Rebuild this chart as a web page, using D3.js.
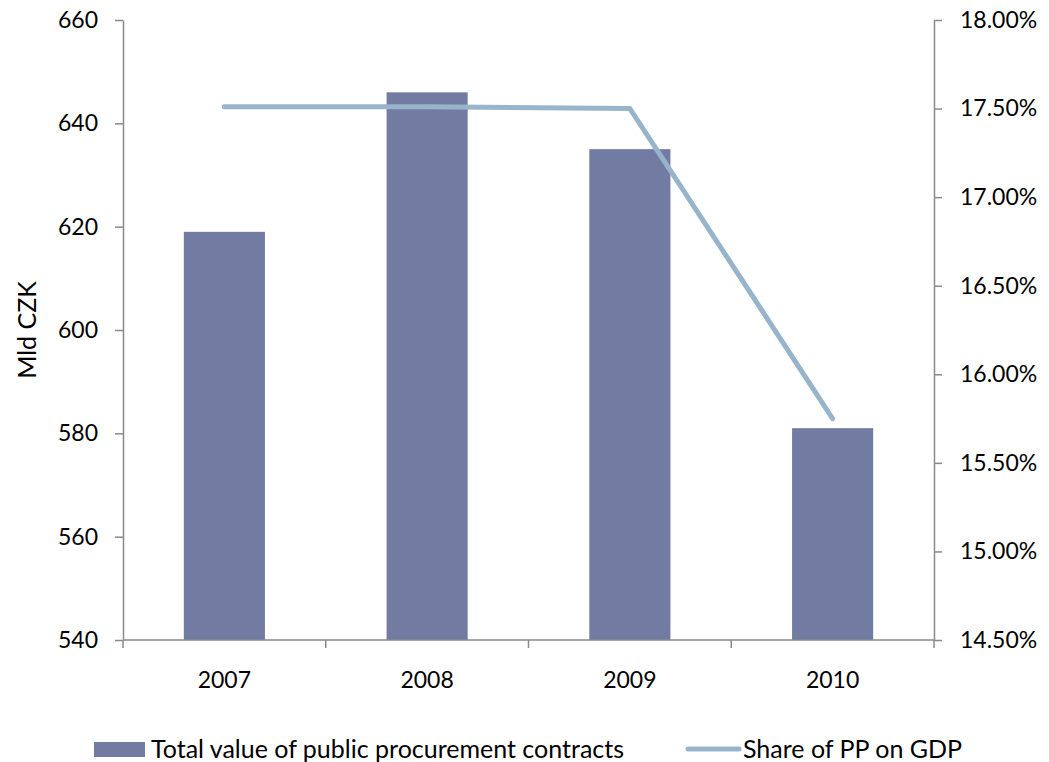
<!DOCTYPE html>
<html>
<head>
<meta charset="utf-8">
<script src="https://cdn.jsdelivr.net/npm/d3@7"></script>
<style>
  html, body { margin: 0; padding: 0; background: #fff; }
  svg { display: block; }
  text { font-family: Lato, "Noto Sans", sans-serif; fill: #000; }
</style>
</head>
<body>
<svg id="chart" width="1049" height="762"></svg>
<script>
// Public procurement in the Czech Republic, 2007–2010
const years = ["2007", "2008", "2009", "2010"];
const contractValues = [619, 646, 635, 581];          // Mld CZK
const gdpShare = [17.51, 17.51, 17.50, 15.75];         // % of GDP
const leftTicks = [540, 560, 580, 600, 620, 640, 660];
const rightTicks = [14.5, 15.0, 15.5, 16.0, 16.5, 17.0, 17.5, 18.0];
const seriesNames = ["Total value of public procurement contracts", "Share of PP on GDP"];

const barColor = "#727ba2";
const lineColor = "#98b4cb";
const axisColor = "#8a8a8a";
const tickFont = 23;
const textFont = 25;

const svg = d3.select("#chart");
const plot = { left: 123, right: 934, top: 20, bottom: 640 };

const x = d3.scaleBand()
  .domain(years)
  .range([plot.left, plot.right])
  .paddingInner(0.6)
  .paddingOuter(0.3);

const yLeft = d3.scaleLinear().domain([540, 660]).range([plot.bottom, plot.top]);
const yRight = d3.scaleLinear().domain([14.5, 18.0]).range([plot.bottom, plot.top]);

// Bars
svg.append("g")
  .selectAll("rect")
  .data(years)
  .join("rect")
  .attr("x", d => x(d))
  .attr("width", x.bandwidth())
  .attr("y", (d, i) => yLeft(contractValues[i]))
  .attr("height", (d, i) => plot.bottom - yLeft(contractValues[i]))
  .attr("fill", barColor);

// Left axis
const leftAxis = svg.append("g")
  .attr("transform", `translate(${plot.left},0)`)
  .call(d3.axisLeft(yLeft).tickValues(leftTicks).tickSize(8).tickSizeOuter(0).tickPadding(17));
leftAxis.select(".domain").attr("stroke", axisColor).attr("stroke-width", 1.5);
leftAxis.selectAll(".tick line").attr("stroke", axisColor).attr("stroke-width", 1.5);
leftAxis.selectAll(".tick text").style("font-size", tickFont + "px").attr("fill", "#000");

// Right axis
const rightAxis = svg.append("g")
  .attr("transform", `translate(${plot.right},0)`)
  .call(d3.axisRight(yRight).tickValues(rightTicks).tickSize(8).tickSizeOuter(0).tickPadding(18)
    .tickFormat(d => d3.format(".2f")(d) + "%"));
rightAxis.select(".domain").attr("stroke", axisColor).attr("stroke-width", 1.5);
rightAxis.selectAll(".tick line").attr("stroke", axisColor).attr("stroke-width", 1.5);
rightAxis.selectAll(".tick text").style("font-size", tickFont + "px").attr("fill", "#000");

// Bottom axis: ticks sit on category boundaries
const boundaries = years.map(d => x(d) - x.step() * x.paddingInner() / 2);
const bottom = svg.append("g").attr("transform", `translate(0,${plot.bottom})`);
bottom.append("line")
  .attr("x1", plot.left).attr("x2", plot.right)
  .attr("stroke", axisColor).attr("stroke-width", 1.5);
bottom.selectAll("line.tick")
  .data(boundaries.slice(1).concat([plot.right]))
  .join("line")
  .attr("class", "tick")
  .attr("x1", d => d).attr("x2", d => d)
  .attr("y1", 0).attr("y2", 8)
  .attr("stroke", axisColor).attr("stroke-width", 1.5);
bottom.append("line")
  .attr("x1", plot.left).attr("x2", plot.left)
  .attr("y1", 0).attr("y2", 8)
  .attr("stroke", axisColor).attr("stroke-width", 1.5);
bottom.selectAll("text")
  .data(years)
  .join("text")
  .attr("x", d => x(d) + x.bandwidth() / 2)
  .attr("y", 40)
  .attr("dy", "0.35em")
  .attr("text-anchor", "middle")
  .style("font-size", tickFont + "px")
  .text(d => d);

// Share line
const line = d3.line()
  .x((d, i) => x(years[i]) + x.bandwidth() / 2)
  .y(d => yRight(d));
svg.append("path")
  .datum(gdpShare)
  .attr("d", line)
  .attr("fill", "none")
  .attr("stroke", lineColor)
  .attr("stroke-width", 5)
  .attr("stroke-linecap", "round")
  .attr("stroke-linejoin", "round");

// Left axis title
svg.append("text")
  .attr("transform", "translate(27,330) rotate(-90)")
  .attr("text-anchor", "middle")
  .attr("dy", "0.35em")
  .style("font-size", textFont + "px")
  .text("Mld CZK");

// Legend
const legend = svg.append("g").attr("transform", "translate(0,749)");
legend.append("rect")
  .attr("x", 94).attr("y", -7).attr("width", 51).attr("height", 15)
  .attr("fill", barColor);
legend.append("text")
  .attr("x", 151).attr("y", 0).attr("dy", "0.35em")
  .style("font-size", textFont + "px")
  .text(seriesNames[0]);
legend.append("line")
  .attr("x1", 688).attr("x2", 739).attr("y1", 0).attr("y2", 0)
  .attr("stroke", lineColor).attr("stroke-width", 5).attr("stroke-linecap", "round");
legend.append("text")
  .attr("x", 743).attr("y", 0).attr("dy", "0.35em")
  .style("font-size", textFont + "px")
  .text(seriesNames[1]);
</script>
</body>
</html>
